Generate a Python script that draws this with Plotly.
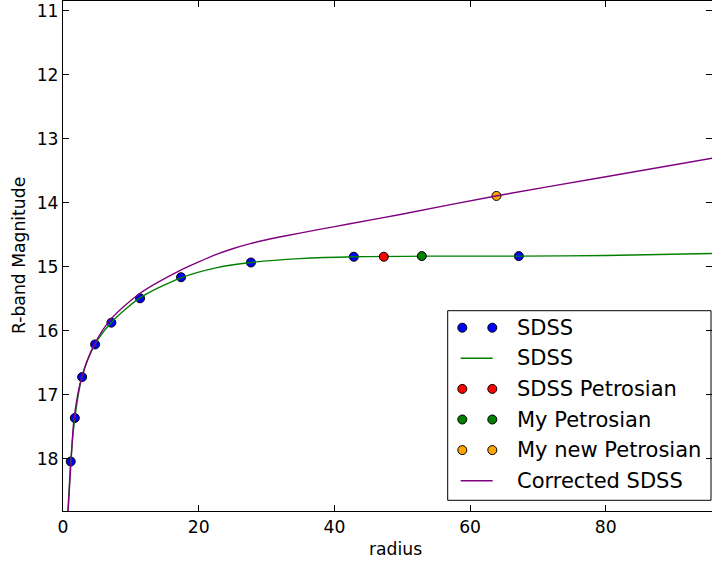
import plotly.graph_objects as go

# Aperture photometry (radius vs R-band magnitude)
sdss_radius = [1.14, 1.74, 2.82, 4.73, 7.13, 11.36, 17.4, 27.7, 42.86, 67.18]
sdss_mag = [18.04, 17.36, 16.72, 16.21, 15.87, 15.49, 15.16, 14.93, 14.84, 14.83]

# Fitted growth curve
fit_radius = [0.72, 1.14, 1.74, 2.8, 4.7, 7.1, 11.4, 17.4, 22.7, 27.7, 34.9, 42.9, 55.0, 67.2, 80.0, 95.7]
fit_mag = [18.86, 18.04, 17.36, 16.72, 16.21, 15.87, 15.48, 15.17, 15.01, 14.93, 14.87, 14.84, 14.83, 14.83, 14.82, 14.79]

# Corrected growth curve
corr_radius = [0.72, 1.19, 1.64, 2.77, 4.63, 6.94, 11.36, 17.5, 20.0, 22.7, 25.0, 27.6, 30.0,
               32.5, 37.4, 42.3, 49.7, 63.8, 80.0, 95.7]
corr_mag = [18.86, 18.03, 17.36, 16.72, 16.21, 15.83, 15.41, 15.04, 14.92, 14.80, 14.715, 14.635, 14.575,
            14.52, 14.42, 14.325, 14.18, 13.89, 13.59, 13.30]

# Petrosian estimates
sdss_petro = (47.28, 14.84)
my_petro = (52.88, 14.83)
my_new_petro = (63.88, 13.89)

legend_labels = ["SDSS", "SDSS", "SDSS Petrosian", "My Petrosian", "My new Petrosian", "Corrected SDSS"]
legend_kinds = ["marker", "line", "marker", "marker", "marker", "line"]
legend_colors = ["#0000ff", "#008000", "#ff0000", "#008000", "#ffa500", "#800080"]

W, H = 712, 562
L, R, T, B = 63, 0, 1, 51
FONT = "DejaVu Sans"
AX_SIZE = 17.2
LEG_SIZE = 21

def mk(color):
    return dict(size=9, color=color, line=dict(color="black", width=1))

fig = go.Figure()
fig.add_trace(go.Scatter(x=sdss_radius, y=sdss_mag, mode="markers", marker=mk("#0000ff")))
fig.add_trace(go.Scatter(x=fit_radius, y=fit_mag, mode="lines",
                         line=dict(color="#008000", width=1.4, shape="spline", smoothing=0.8)))
fig.add_trace(go.Scatter(x=[sdss_petro[0]], y=[sdss_petro[1]], mode="markers", marker=mk("#ff0000")))
fig.add_trace(go.Scatter(x=[my_petro[0]], y=[my_petro[1]], mode="markers", marker=mk("#008000")))
fig.add_trace(go.Scatter(x=[my_new_petro[0]], y=[my_new_petro[1]], mode="markers", marker=mk("#ffa500")))
fig.add_trace(go.Scatter(x=corr_radius, y=corr_mag, mode="lines",
                         line=dict(color="#800080", width=1.4, shape="spline", smoothing=0.8)))

# Legend drawn in a pixel-based overlay axis so each entry can show two markers
pw, ph = W - L - R, H - T - B
def px(x):
    return (x - L) / pw
def py(y):
    return (H - B - y) / ph

box = dict(x0=447.7, x1=711.0, y0=310.7, y1=500.3)
row0, step = 327.7, 30.6
mk_x = [462.3, 492.3]
text_x = 515.0

shapes = [dict(type="rect", xref="paper", yref="paper",
               x0=px(box["x0"]), x1=px(box["x1"]), y0=py(box["y1"]), y1=py(box["y0"]),
               line=dict(color="black", width=1), fillcolor="white", layer="below")]
annotations = []
for i, (lab, kind, col) in enumerate(zip(legend_labels, legend_kinds, legend_colors)):
    yy = row0 + i * step
    if kind == "marker":
        fig.add_trace(go.Scatter(x=mk_x, y=[yy, yy], mode="markers", marker=mk(col),
                                 xaxis="x2", yaxis="y2"))
    else:
        fig.add_trace(go.Scatter(x=[460.7, 492.7], y=[yy, yy], mode="lines",
                                 line=dict(color=col, width=1.4), xaxis="x2", yaxis="y2"))
    annotations.append(dict(x=px(text_x), y=py(yy), xref="paper", yref="paper",
                            text=lab, showarrow=False, xanchor="left", yanchor="middle",
                            font=dict(family=FONT, size=LEG_SIZE, color="black")))

annotations.append(dict(x=px(395), y=py(549), xref="paper", yref="paper", text="radius",
                        showarrow=False, xanchor="center", yanchor="middle",
                        font=dict(family=FONT, size=AX_SIZE, color="black")))
annotations.append(dict(x=px(19), y=py(256), xref="paper", yref="paper", text="R-band Magnitude",
                        showarrow=False, xanchor="center", yanchor="middle", textangle=-90,
                        font=dict(family=FONT, size=AX_SIZE, color="black")))

axis_common = dict(showgrid=False, zeroline=False, showline=True, linecolor="black", linewidth=1,
                   mirror="ticks", ticks="inside", ticklen=6, tickwidth=1, tickcolor="black",
                   tickfont=dict(family=FONT, size=AX_SIZE, color="black"))

fig.update_layout(
    width=W, height=H,
    margin=dict(l=L, r=R, t=T, b=B, pad=0),
    paper_bgcolor="white", plot_bgcolor="white",
    showlegend=False, hovermode=False,
    font=dict(family=FONT, color="black"),
    xaxis=dict(range=[0, 95.65], tickmode="array", tickvals=[0, 20, 40, 60, 80], **axis_common),
    yaxis=dict(range=[18.813, 10.844], tickmode="array", tickvals=list(range(11, 19)), **axis_common),
    xaxis2=dict(overlaying="x", range=[L, W - R], visible=False, fixedrange=True),
    yaxis2=dict(overlaying="y", range=[H - B, T], visible=False, fixedrange=True),
    shapes=shapes, annotations=annotations,
)

fig.write_html("out.html")
